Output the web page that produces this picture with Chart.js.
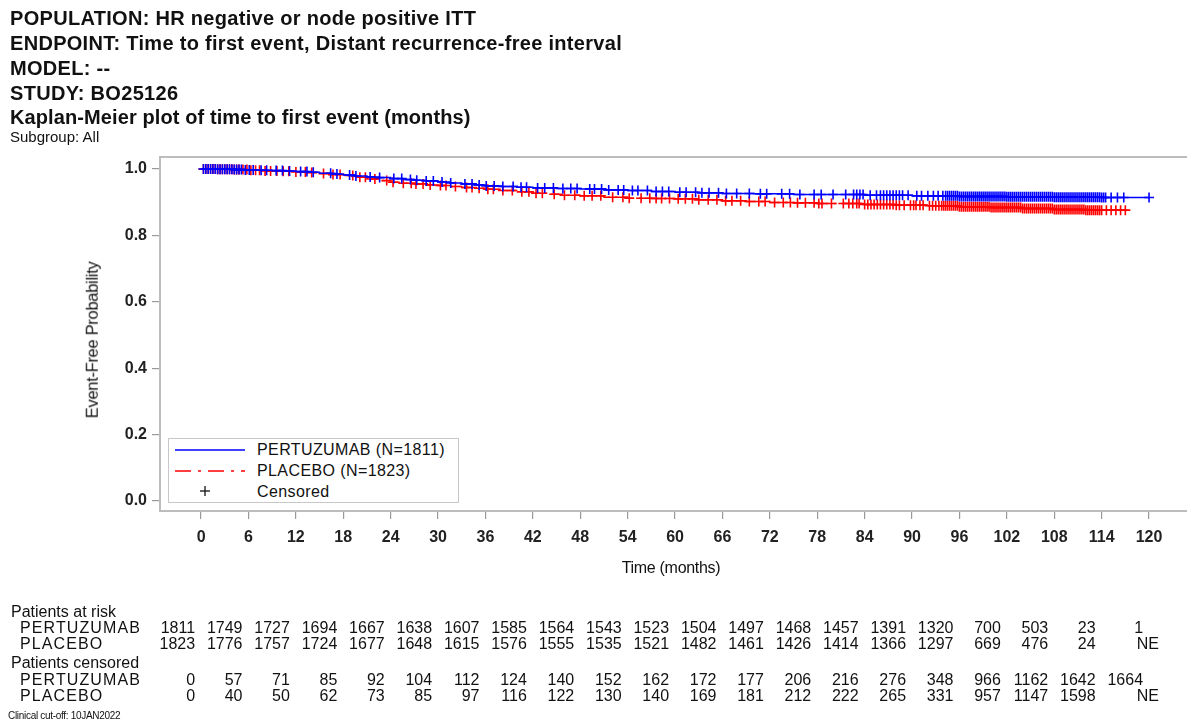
<!DOCTYPE html>
<html>
<head>
<meta charset="utf-8">
<script src="https://cdn.jsdelivr.net/npm/chart.js@4.4.1/dist/chart.umd.min.js"></script>
<style>
  html, body { margin: 0; padding: 0; background: #fff; }
  body { width: 1187px; height: 722px; position: relative; overflow: hidden; font-family: "Liberation Sans", Arial, sans-serif; color: #111; }
  #wrap { position: absolute; left: 0; top: 0; width: 1187px; height: 722px; }
  .hdr { position: absolute; left: 10px; font-weight: bold; font-size: 20px; letter-spacing: 0.3px; white-space: nowrap; line-height: 1; }
  .sub { position: absolute; left: 10px; font-size: 15px; white-space: nowrap; line-height: 1; }
  .t { position: absolute; white-space: nowrap; line-height: 1; font-size: 16px; }
  .num { position: absolute; white-space: nowrap; line-height: 1; font-size: 16px; }
  .lab { letter-spacing: 1.1px; }
  #legend { position: absolute; border: 1.5px solid #c8c8c8; background: #fff; }
</style>
</head>
<body>
<div id="wrap"><canvas id="c" width="1187" height="722"></canvas></div>
<div class="hdr" style="top:8px">POPULATION: HR negative or node positive ITT</div>
<div class="hdr" style="top:33px">ENDPOINT: Time to first event, Distant recurrence-free interval</div>
<div class="hdr" style="top:58px">MODEL: --</div>
<div class="hdr" style="top:83px">STUDY: BO25126</div>
<div class="hdr" style="top:107px; letter-spacing:0.1px">Kaplan-Meier plot of time to first event (months)</div>
<div class="sub" style="top:129px">Subgroup: All</div>
<div id="overlay"></div>
<script>
// ---------- data ----------
const xTicks = [0, 6, 12, 18, 24, 30, 36, 42, 48, 54, 60, 66, 72, 78, 84, 90, 96, 102, 108, 114, 120];
const yTicks = [0.0, 0.2, 0.4, 0.6, 0.8, 1.0];

const pertTimes = [0, 2, 4, 5.5, 7, 9, 10.5, 12, 13.5, 15, 16.5, 18, 19.5, 21, 22.5, 24, 25.5, 27, 28.5, 30, 31.5, 33, 34.5, 36, 38, 40, 42, 45, 48, 51, 54, 57, 60, 63, 66, 70, 75, 84, 90, 96, 102, 108, 114, 120];
const pertSurv  = [1.000, 0.999, 0.998, 0.997, 0.996, 0.995, 0.994, 0.992, 0.990, 0.987, 0.985, 0.982, 0.979, 0.976, 0.974, 0.971, 0.968, 0.966, 0.964, 0.961, 0.958, 0.955, 0.952, 0.949, 0.947, 0.945, 0.943, 0.941, 0.940, 0.937, 0.935, 0.932, 0.930, 0.928, 0.926, 0.925, 0.923, 0.921, 0.919, 0.917, 0.916, 0.915, 0.914, 0.914];

const placTimes = [0, 2, 4, 6, 8, 10, 12, 13.5, 15, 16.5, 18, 19.5, 21, 22.5, 24, 25.5, 27, 28.5, 30, 31.5, 33, 34.5, 36, 38, 40, 42, 44, 46, 48, 51, 54, 57, 60, 63, 66, 69, 72, 75, 78, 84, 88, 92, 96, 100, 104, 108, 112, 117.3];
const placSurv  = [1.000, 0.999, 0.998, 0.996, 0.994, 0.993, 0.991, 0.989, 0.986, 0.983, 0.980, 0.975, 0.970, 0.965, 0.960, 0.957, 0.955, 0.952, 0.950, 0.947, 0.944, 0.942, 0.939, 0.935, 0.931, 0.927, 0.924, 0.921, 0.919, 0.915, 0.912, 0.911, 0.910, 0.907, 0.904, 0.902, 0.899, 0.898, 0.896, 0.893, 0.891, 0.889, 0.886, 0.884, 0.881, 0.878, 0.876, 0.876];

const pertCensor = [0.3, 0.6, 0.9, 1.2, 1.5, 1.8, 2.1, 2.4, 2.7, 3.0, 3.3, 3.6, 3.9, 4.2, 4.5, 4.8, 5.1, 5.6, 6.1, 6.6, 7.6, 8.3, 9.5, 10.3, 11.2, 12.6, 13.4, 14.2, 16.4, 17.2, 18.8, 19.6, 21.4, 22.6, 24.4, 25.4, 26.5, 27.3, 28.5, 29.4, 30.5, 31.6, 33.4, 34.3, 35.2, 36.1, 37.1, 38.2, 39.5, 40.5, 41.2, 42.6, 43.5, 44.6, 45.8, 46.8, 47.6, 49.2, 49.8, 50.7, 51.6, 52.8, 53.5, 54.6, 55.3, 56.5, 57.6, 58.4, 59.2, 60.6, 61.4, 62.6, 63.4, 64.3, 65.5, 66.5, 67.8, 69.4, 70.8, 71.6, 73.5, 74.5, 75.8, 77.6, 78.5, 80.0, 81.6, 82.6, 83.0, 83.4, 83.8, 84.7, 85.5, 86.0, 86.4, 86.8, 87.2, 87.6, 88.0, 88.4, 88.8, 89.5, 90.6, 91.2, 92.0, 92.7, 93.3, 93.9,
  94.25, 94.5, 94.75, 95, 95.25, 95.5, 95.75, 96, 96.25, 96.5, 96.75, 97, 97.25, 97.5, 97.75, 98, 98.25, 98.5, 98.75, 99, 99.25, 99.5, 99.75, 100, 100.25, 100.5, 100.75, 101, 101.25, 101.5, 101.75, 102, 102.25, 102.5, 102.75, 103, 103.25, 103.5, 103.75, 104, 104.25, 104.5, 104.75, 105, 105.25, 105.5, 105.75, 106, 106.25, 106.5, 106.75, 107, 107.25, 107.5, 107.75, 108, 108.25, 108.5, 108.75, 109, 109.25, 109.5, 109.75, 110, 110.25, 110.5, 110.75, 111, 111.25, 111.5, 111.75, 112, 112.25, 112.5, 112.75, 113, 113.25, 113.5, 113.75, 114, 114.25, 114.5,
  115.2, 116.0, 116.8, 120.0];

const placCensor = [0.3, 0.6, 0.9, 1.2, 1.5, 1.8, 2.1, 2.4, 2.7, 3.0, 3.3, 3.6, 3.9, 4.2, 4.5, 4.8, 5.3, 5.8, 6.3, 6.9, 7.4, 8.1, 8.8, 9.6, 10.4, 11.1, 12.0, 13.2, 14.0, 15.5, 16.7, 17.6, 19.2, 20.1, 20.8, 22.0, 23.5, 24.3, 25.6, 26.6, 27.2, 28.1, 29.0, 30.3, 31.0, 32.2, 33.6, 34.3, 35.2, 36.3, 37.0, 38.2, 39.4, 40.6, 41.5, 42.4, 43.2, 44.7, 46.0, 47.3, 48.5, 49.5, 50.6, 52.1, 53.4, 54.2, 55.7, 56.8, 57.6, 58.3, 59.3, 60.4, 61.3, 62.2, 63.0, 64.2, 65.3, 66.4, 67.2, 68.3, 69.4, 70.6, 71.4, 72.6, 73.7, 74.6, 75.5, 76.5, 77.6, 78.2, 78.6, 79.8, 81.3, 82.0, 82.5, 83.0, 83.3, 84.0, 84.4, 84.8, 85.2, 85.6, 86.0, 86.4, 86.8, 87.2, 87.6, 88.0, 88.4, 89.0, 89.8, 90.2, 90.5, 91.0, 91.4, 92.2, 92.6, 93.0, 93.4,
  93.75, 94, 94.25, 94.5, 94.75, 95, 95.25, 95.5, 95.75, 96, 96.25, 96.5, 96.75, 97, 97.25, 97.5, 97.75, 98, 98.25, 98.5, 98.75, 99, 99.25, 99.5, 99.75, 100, 100.25, 100.5, 100.75, 101, 101.25, 101.5, 101.75, 102, 102.25, 102.5, 102.75, 103, 103.25, 103.5, 103.75, 104, 104.25, 104.5, 104.75, 105, 105.25, 105.5, 105.75, 106, 106.25, 106.5, 106.75, 107, 107.25, 107.5, 107.75, 108, 108.25, 108.5, 108.75, 109, 109.25, 109.5, 109.75, 110, 110.25, 110.5, 110.75, 111, 111.25, 111.5, 111.75, 112, 112.25, 112.5, 112.75, 113, 113.25, 113.5, 113.75, 114,
  114.6, 115.2, 115.8, 116.4, 117.0];

const pertAtRisk = ["1811", "1749", "1727", "1694", "1667", "1638", "1607", "1585", "1564", "1543", "1523", "1504", "1497", "1468", "1457", "1391", "1320", "700", "503", "23", "1"];
const placAtRisk = ["1823", "1776", "1757", "1724", "1677", "1648", "1615", "1576", "1555", "1535", "1521", "1482", "1461", "1426", "1414", "1366", "1297", "669", "476", "24", "NE"];
const pertCensored = ["0", "57", "71", "85", "92", "104", "112", "124", "140", "152", "162", "172", "177", "206", "216", "276", "348", "966", "1162", "1642", "1664"];
const placCensored = ["0", "40", "50", "62", "73", "85", "97", "116", "122", "130", "140", "169", "181", "212", "222", "265", "331", "957", "1147", "1598", "NE"];

const seriesNames = ["PERTUZUMAB (N=1811)", "PLACEBO (N=1823)", "Censored"];
const armNames = ["PERTUZUMAB", "PLACEBO"];
const BLUE = "#0000ff", RED = "#ff0000";

// ---------- helpers ----------
function stepAt(times, surv, t) {
  let v = surv[0];
  for (let i = 0; i < times.length; i++) { if (times[i] <= t) v = surv[i]; else break; }
  return v;
}
const pts = (times, surv) => times.map((t, i) => ({ x: t, y: surv[i] }));
const cens = (ct, times, surv) => ct.map(t => ({ x: t, y: stepAt(times, surv, t) }));

const frame = {
  id: "frame",
  beforeDatasetsDraw(chart) {
    const a = chart.chartArea, ctx = chart.ctx;
    ctx.save();
    ctx.strokeStyle = "#bdbdbd";
    ctx.lineWidth = 2;
    ctx.beginPath();
    ctx.moveTo(chart.width + 2, a.top);
    ctx.lineTo(a.left, a.top);
    ctx.lineTo(a.left, a.bottom);
    ctx.lineTo(chart.width + 2, a.bottom);
    ctx.stroke();
    ctx.restore();
  }
};

const chart = new Chart(document.getElementById("c"), {
  type: "scatter",
  data: {
    datasets: [
      { label: "pc", data: cens(pertCensor, pertTimes, pertSurv), showLine: false, pointStyle: "cross", pointRadius: 5, borderColor: BLUE, borderWidth: 1.6, backgroundColor: BLUE },
      { label: seriesNames[0], data: pts(pertTimes, pertSurv), showLine: true, stepped: "before", borderColor: BLUE, borderWidth: 1.5, pointRadius: 0, fill: false },
      { label: "plc", data: cens(placCensor, placTimes, placSurv), showLine: false, pointStyle: "cross", pointRadius: 5, borderColor: RED, borderWidth: 1.6, backgroundColor: RED },
      { label: seriesNames[1], data: pts(placTimes, placSurv), showLine: true, stepped: "before", borderColor: RED, borderWidth: 1.5, borderDash: [12, 5, 3, 5], pointRadius: 0, fill: false }
    ]
  },
  options: {
    responsive: false,
    animation: false,
    events: [],
    layout: { padding: { left: 0, top: 157, right: 19, bottom: 141 } },
    plugins: { legend: { display: false }, tooltip: { enabled: false }, title: { display: false } },
    scales: {
      x: {
        type: "linear", min: -5.2, max: 122.4,
        afterBuildTicks: s => { s.ticks = xTicks.map(v => ({ value: v })); },
        afterFit: s => { s.height = 70; },
        grid: { display: true, drawOnChartArea: false, drawTicks: true, tickLength: 8, color: "#999", lineWidth: 1.2 },
        border: { display: false },
        ticks: { autoSkip: false, maxRotation: 0, padding: 9, color: "#222", font: { family: "Liberation Sans", size: 16, weight: "bold" }, callback: v => String(v) }
      },
      y: {
        type: "linear", min: -0.03, max: 1.036,
        afterBuildTicks: s => { s.ticks = yTicks.map(v => ({ value: v })); },
        afterFit: s => { s.width = 160; },
        grid: { display: true, drawOnChartArea: false, drawTicks: true, tickLength: 8, color: "#999", lineWidth: 1.2 },
        border: { display: false },
        ticks: { padding: 5, color: "#222", font: { family: "Liberation Sans", size: 16, weight: "bold" }, callback: v => v.toFixed(1) }
      }
    }
  },
  plugins: [frame]
});

// ---------- HTML overlays: axis titles, legend, risk table ----------
const ov = document.getElementById("overlay");
function addDiv(cls, text, style, parent) {
  const d = document.createElement("div");
  d.className = cls; d.textContent = text; d.setAttribute("style", style); (parent || ov).appendChild(d); return d;
}
const xs = chart.scales.x, area = chart.chartArea;

addDiv("t", "Time (months)", `left:671px; top:560px; font-size:16px; letter-spacing:-0.3px; transform: translateX(-50%);`);
addDiv("t", "Event-Free Probability", `left:92px; top:${(area.top + area.bottom) / 2 + 6}px; font-size:16.5px; letter-spacing:-0.3px; transform: translate(-50%,-50%) rotate(-90deg);`);

// legend
const lg = document.createElement("div");
lg.id = "legend";
lg.setAttribute("style", `left:168px; top:438px; width:289px; height:63px;`);
lg.innerHTML = `
<svg width="289" height="63" style="position:absolute;left:0;top:0">
  <line x1="6" y1="11" x2="76" y2="11" stroke="${BLUE}" stroke-width="1.3"/>
  <line x1="6" y1="32" x2="76" y2="32" stroke="${RED}" stroke-width="1.3" stroke-dasharray="16,7,3,7"/>
  <line x1="36" y1="47" x2="36" y2="57" stroke="#111" stroke-width="1.3"/>
  <line x1="31" y1="52" x2="41" y2="52" stroke="#111" stroke-width="1.3"/>
</svg>`;
ov.appendChild(lg);
seriesNames.forEach((name, i) => {
  addDiv("t", name, `left:88px; top:${3 + i * 21}px; font-size:16px; letter-spacing:0.4px;`, lg);
});

// risk table
addDiv("t", "Patients at risk", "left:11px; top:604px;");
addDiv("t lab", armNames[0], "left:20px; top:620px;");
addDiv("t lab", armNames[1], "left:20px; top:636px;");
addDiv("t", "Patients censored", "left:11px; top:655px;");
addDiv("t lab", armNames[0], "left:20px; top:672px;");
addDiv("t lab", armNames[1], "left:20px; top:688px;");
addDiv("t", "Clinical cut-off: 10JAN2022", "left:8px; top:711px; font-size:10px; letter-spacing:-0.3px;");

const rows = [[pertAtRisk, 620], [placAtRisk, 636], [pertCensored, 672], [placCensored, 688]];
rows.forEach(([vals, top]) => {
  vals.forEach((v, i) => {
    const px = xs.getPixelForValue(xTicks[i]);
    const right = v === "NE" ? px + 10 : px - 6;
    addDiv("num", v, `right:${1187 - right}px; top:${top}px;`);
  });
});
</script>
</body>
</html>
